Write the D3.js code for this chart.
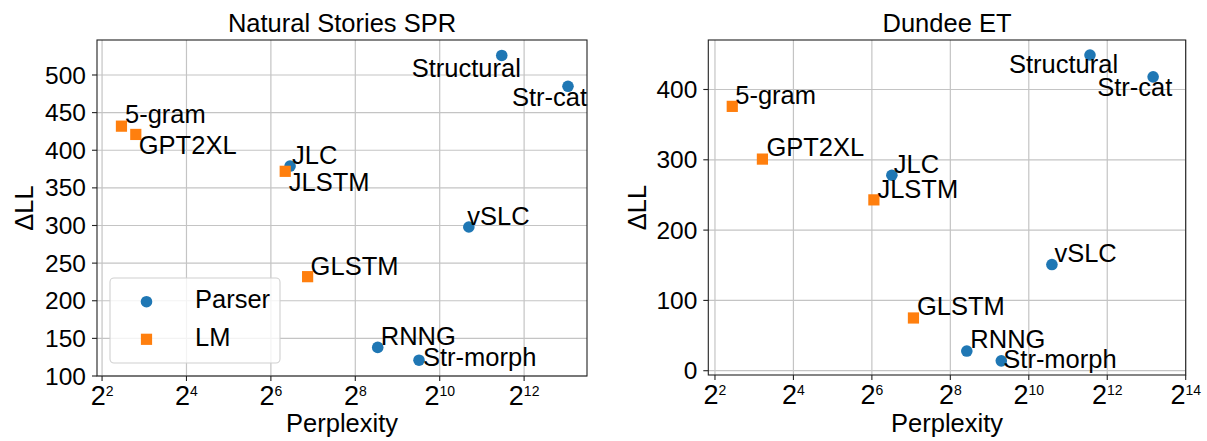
<!DOCTYPE html>
<html>
<head>
<meta charset="utf-8">
<script src="https://cdn.jsdelivr.net/npm/d3@7"></script>
<style>
  body { margin: 0; background: #fff; }
  svg text { font-family: "Liberation Sans", Arial, Helvetica, sans-serif; fill: #000; }
</style>
</head>
<body>
<div id="chart"></div>
<script>
const W = 1207, H = 441;

// data
const models = ["5-gram", "GPT2XL", "JLC", "JLSTM", "GLSTM", "RNNG", "Str-morph", "vSLC", "Structural", "Str-cat"];
const modelType = ["LM", "LM", "Parser", "LM", "LM", "Parser", "Parser", "Parser", "Parser", "Parser"];
const nsPerplexity = [5.50, 6.96, 87.7, 81.0, 117, 370, 729, 1652, 2837, 8420];
const nsDeltaLL = [432, 421, 379, 372, 232, 138, 121, 298, 526, 485];
const dundeePerplexity = [5.43, 9.25, 91.1, 66.3, 133.4, 342.5, 630, 1541, 3019, 9216];
const dundeeDeltaLL = [376, 301, 278, 243, 75, 28, 14, 151, 449, 418];
const nsXExponents = [2, 4, 6, 8, 10, 12];
const dundeeXExponents = [2, 4, 6, 8, 10, 12, 14];
const nsYTicks = [100, 150, 200, 250, 300, 350, 400, 450, 500];
const dundeeYTicks = [0, 100, 200, 300, 400];
const legendLabels = ["Parser", "LM"];

const colors = {Parser: "#1f77b4", LM: "#ff7f0e"};

// label placement relative to the point (px)
const nsLabelOffset = {
  "Structural": [-90, 22], "Str-cat": [-56, 20], "5-gram": [3.5, -3], "GPT2XL": [3, 20],
  "JLC": [2, -2], "JLSTM": [3.5, 20], "vSLC": [-1.5, -2], "GLSTM": [3, -2],
  "RNNG": [3, -2], "Str-morph": [4, 6]
};
const dundeeLabelOffset = {
  "Structural": [-81, 18], "Str-cat": [-56, 19], "5-gram": [3, -2.5], "GPT2XL": [4, -2.7],
  "JLC": [2, -2.3], "JLSTM": [3.5, -2.3], "vSLC": [2.5, -2.4], "GLSTM": [3.5, -2.7],
  "RNNG": [3.5, -2.6], "Str-morph": [2, 6.7]
};

const svg = d3.select("#chart").append("svg")
  .attr("width", W).attr("height", H)
  .attr("viewBox", "0 0 " + W + " " + H);

function drawPanel(p) {
  const x = d3.scaleLog().base(2).domain(p.xDomain).range([p.left, p.right]);
  const y = d3.scaleLinear().domain(p.yDomain).range([p.bottom, p.top]);
  const g = svg.append("g");

  // grid
  g.selectAll("line.vgrid").data(p.xExp).enter().append("line")
    .attr("x1", d => x(Math.pow(2, d))).attr("x2", d => x(Math.pow(2, d)))
    .attr("y1", p.top).attr("y2", p.bottom)
    .attr("stroke", "#c4c4c4").attr("stroke-width", 1.2);
  g.selectAll("line.hgrid").data(p.yTicks).enter().append("line")
    .attr("x1", p.left).attr("x2", p.right)
    .attr("y1", d => y(d)).attr("y2", d => y(d))
    .attr("stroke", "#c4c4c4").attr("stroke-width", 1.2);

  const pts = models.map((m, i) => ({name: m, type: modelType[i], ppl: p.ppl[i], ll: p.ll[i]}));

  // parsers first, LMs on top
  g.selectAll("circle").data(pts.filter(d => d.type === "Parser")).enter().append("circle")
    .attr("cx", d => x(d.ppl)).attr("cy", d => y(d.ll))
    .attr("r", 5.8).attr("fill", colors.Parser);
  g.selectAll("rect.pt").data(pts.filter(d => d.type === "LM")).enter().append("rect")
    .attr("class", "pt")
    .attr("x", d => x(d.ppl) - 5.6).attr("y", d => y(d.ll) - 5.6)
    .attr("width", 11.2).attr("height", 11.2).attr("fill", colors.LM);

  g.selectAll("text.lab").data(pts).enter().append("text")
    .attr("class", "lab")
    .attr("x", d => x(d.ppl) + p.offsets[d.name][0])
    .attr("y", d => y(d.ll) + p.offsets[d.name][1])
    .attr("font-size", 25.5)
    .text(d => d.name);

  // spines
  g.append("rect")
    .attr("x", p.left).attr("y", p.top)
    .attr("width", p.right - p.left).attr("height", p.bottom - p.top)
    .attr("fill", "none").attr("stroke", "#222").attr("stroke-width", 1.1);

  // x ticks
  const xt = g.selectAll("g.xt").data(p.xExp).enter().append("g")
    .attr("transform", d => "translate(" + x(Math.pow(2, d)) + "," + p.bottom + ")");
  xt.append("line").attr("y1", 0).attr("y2", 5).attr("stroke", "#222").attr("stroke-width", 1.1);
  const xl = xt.append("text").attr("text-anchor", "middle").attr("y", 29);
  xl.append("tspan").attr("font-size", 27).text("2");
  xl.append("tspan").attr("font-size", 14).attr("dy", -9.5).text(d => d);

  // y ticks
  const yt = g.selectAll("g.yt").data(p.yTicks).enter().append("g")
    .attr("transform", d => "translate(" + p.left + "," + y(d) + ")");
  yt.append("line").attr("x1", 0).attr("x2", -5).attr("stroke", "#222").attr("stroke-width", 1.1);
  yt.append("text").attr("text-anchor", "end").attr("x", -11).attr("dy", "0.35em")
    .attr("font-size", 24.5).text(d => d);

  // titles
  const cx = (p.left + p.right) / 2;
  g.append("text").attr("x", cx).attr("y", 32.3).attr("text-anchor", "middle")
    .attr("font-size", 25.5).text(p.title);
  g.append("text").attr("x", cx).attr("y", 432).attr("text-anchor", "middle")
    .attr("font-size", 25.5).text("Perplexity");
  g.append("text").attr("text-anchor", "middle")
    .attr("transform", "translate(" + p.yLabelX + "," + (p.top + p.bottom) / 2 + ") rotate(-90)")
    .attr("font-size", 25.5).text("\u0394LL");
}

drawPanel({
  title: "Natural Stories SPR",
  left: 97, right: 587, top: 40, bottom: 376,
  xDomain: [Math.pow(2, 1.88), Math.pow(2, 13.49)], yDomain: [100, 546.5],
  xExp: nsXExponents, yTicks: nsYTicks,
  ppl: nsPerplexity, ll: nsDeltaLL, offsets: nsLabelOffset, yLabelX: 33
});

drawPanel({
  title: "Dundee ET",
  left: 708.3, right: 1185.7, top: 40, bottom: 375,
  xDomain: [Math.pow(2, 1.83), Math.pow(2, 14)], yDomain: [-6.1, 470.4],
  xExp: dundeeXExponents, yTicks: dundeeYTicks,
  ppl: dundeePerplexity, ll: dundeeDeltaLL, offsets: dundeeLabelOffset, yLabelX: 646
});

// legend (left panel)
const leg = svg.append("g");
leg.append("rect")
  .attr("x", 110).attr("y", 278).attr("width", 170).attr("height", 85)
  .attr("rx", 4).attr("ry", 4)
  .attr("fill", "#fff").attr("fill-opacity", 0.8)
  .attr("stroke", "#d0d0d0").attr("stroke-width", 1.1);
const rows = leg.selectAll("g.row").data(legendLabels).enter().append("g")
  .attr("transform", (d, i) => "translate(146.5," + (301.7 + i * 37.6) + ")");
rows.filter(d => d === "Parser").append("circle").attr("r", 5.8).attr("fill", colors.Parser);
rows.filter(d => d === "LM").append("rect")
  .attr("x", -5.6).attr("y", -5.6).attr("width", 11.2).attr("height", 11.2).attr("fill", colors.LM);
rows.append("text").attr("x", 48.5).attr("y", 6.7).attr("font-size", 25.5).text(d => d);
</script>
</body>
</html>
